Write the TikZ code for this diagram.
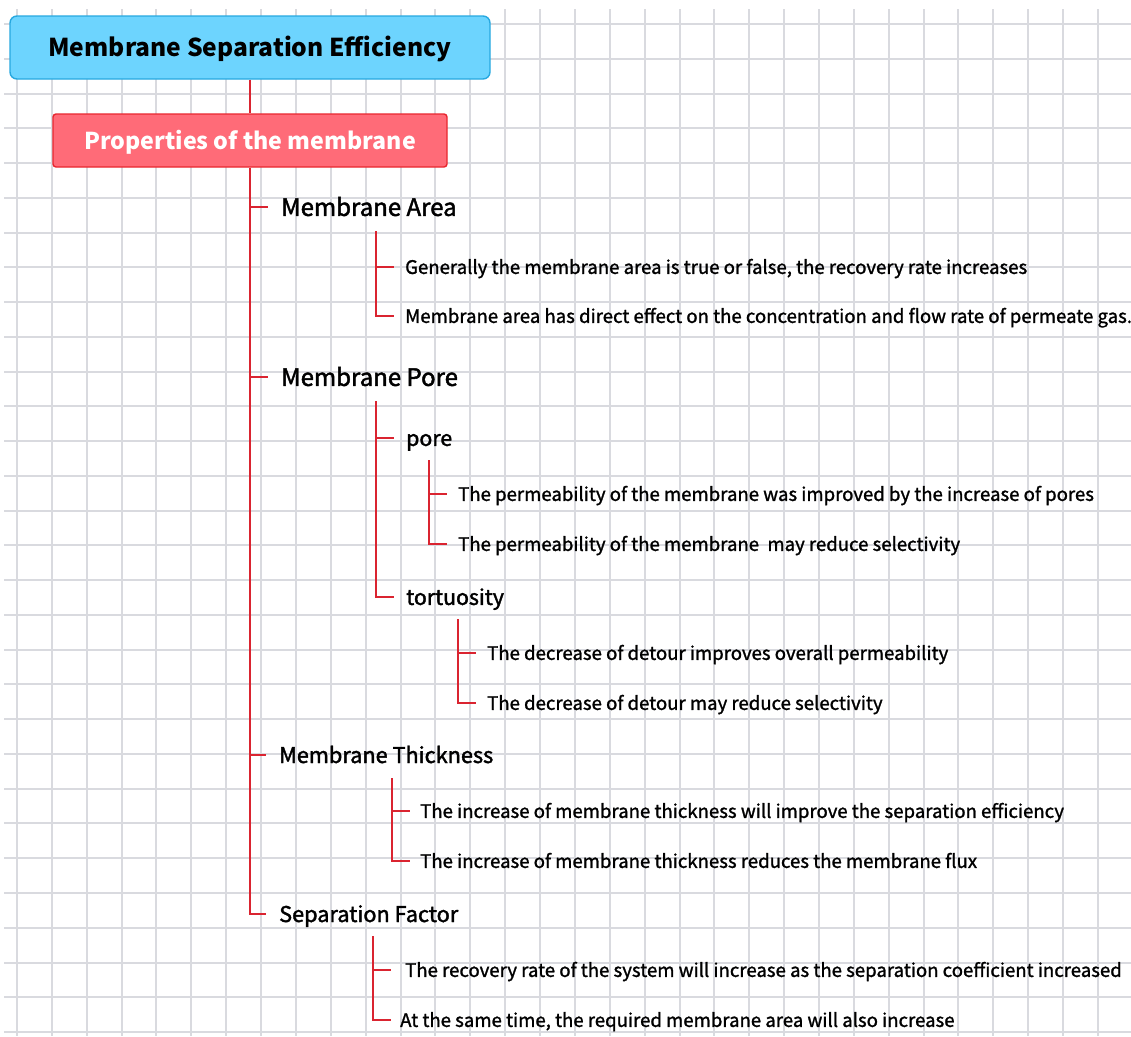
\documentclass[tikz,border=0pt]{standalone}
\usepackage{fontspec}
\setmainfont{Noto Sans CJK KR}
\newfontfamily\medfont[FakeBold=1.3]{Noto Sans CJK KR}
\newfontfamily\lvlfont[FakeBold=1.8]{Noto Sans CJK KR}
\definecolor{gridc}{HTML}{D9DADF}
\definecolor{linkc}{HTML}{DA2430}
\definecolor{rootfill}{HTML}{6DD4FE}
\definecolor{rootdraw}{HTML}{27A8E0}
\definecolor{propfill}{HTML}{FF6B78}
\definecolor{propdraw}{HTML}{E8262F}
\begin{document}
\begin{tikzpicture}[x=1pt,y=-1pt,
  gridline/.style={draw=gridc, line width=1.5pt},
  link/.style={draw=linkc, line width=1.4pt},
  txt/.style={inner sep=0pt, text depth=0pt},
  rootbox/.style={txt, text height=18pt, draw=rootdraw, fill=rootfill, line width=1.4pt, rounded corners=7pt, minimum width=480pt, minimum height=63pt, font=\bfseries\fontsize{24.6}{30}\selectfont},
  propbox/.style={txt, text height=17pt, draw=propdraw, fill=propfill, line width=1.4pt, rounded corners=3pt, minimum width=394pt, minimum height=53pt, font=\bfseries\fontsize{23.2}{28}\selectfont, text=white},
  lvlone/.style={txt, text height=17.8pt, anchor=west, font=\lvlfont\fontsize{24}{26}\selectfont},
  lvlonesm/.style={txt, text height=16pt, anchor=west, font=\lvlfont\fontsize{21.7}{24}\selectfont},
  lvltwo/.style={txt, text height=15.8pt, anchor=west, font=\lvlfont\fontsize{21.3}{23}\selectfont},
  leaf/.style={txt, text height=13.8pt, anchor=west, font=\medfont\fontsize{18.6}{20}\selectfont}
]
\useasboundingbox (0,0) rectangle (1131,1036);
\fill[white] (0,0) rectangle (1131,1036);
\begin{scope}
\clip (0,0) rectangle (1131,1036);
\foreach \i in {0,...,32} {
  \pgfmathtruncatemacro{\gx}{17+34.87*\i+0.5}
  \draw[gridline] (\gx,9) -- (\gx,1036);
}
\foreach \j in {0,...,29} {
  \pgfmathtruncatemacro{\gy}{24+34.76*\j+0.5}
  \draw[gridline] (4,\gy) -- (1131,\gy);
}
\end{scope}

% main nodes
\node[rootbox] (root) at (250,47.5) {Membrane Separation Efficiency};
\node[propbox] (prop) at (250,140.5) {Properties of the membrane};

\node[lvlone] (ma) at (281,207) {Membrane Area};
\node[lvlone] (mp) at (281,377) {Membrane Pore};
\node[lvlonesm] (mt) at (279,755) {Membrane Thickness};
\node[lvlonesm] (sf) at (279,914) {Separation Factor};

\node[leaf] (ma1) at (405,267) {Generally the membrane area is true or false, the recovery rate increases};
\node[leaf] (ma2) at (405,316) {Membrane area has direct effect on the concentration and flow rate of permeate gas.};

\node[lvltwo] (po) at (406,438) {pore};
\node[lvltwo] (to) at (406,597) {tortuosity};

\node[leaf] (po1) at (458,494) {The permeability of the membrane was improved by the increase of pores};
\node[leaf] (po2) at (458,544) {The permeability of the membrane\ \ may reduce selectivity};
\node[leaf] (to1) at (487,653) {The decrease of detour improves overall permeability};
\node[leaf] (to2) at (487,703) {The decrease of detour may reduce selectivity};

\node[leaf] (mt1) at (420,811) {The increase of membrane thickness will improve the separation efficiency};
\node[leaf] (mt2) at (420,861) {The increase of membrane thickness reduces the membrane flux};

\node[leaf] (sf1) at (405,970) {The recovery rate of the system will increase as the separation coefficient increased};
\node[leaf] (sf2) at (400,1020) {At the same time, the required membrane area will also increase};

% trunk anchors
\coordinate (maT) at (376,231);
\coordinate (mpT) at (376,401);
\coordinate (poT) at (429,460);
\coordinate (toT) at (458,619);
\coordinate (mtT) at (392,778);
\coordinate (sfT) at (373,936);

% connectors
\draw[link] (root.south) -- (prop.north);
\draw[link] (prop.south) |- ([xshift=-13pt]sf.west);
\foreach \c in {ma,mp,mt} \draw[link] (prop.south |- \c.west) -- ([xshift=-13pt]\c.west);

\draw[link] (maT) |- ([xshift=-11pt]ma2.west);
\draw[link] (maT |- ma1.west) -- ([xshift=-11pt]ma1.west);

\draw[link] (mpT) |- ([xshift=-12pt]to.west);
\draw[link] (mpT |- po.west) -- ([xshift=-12pt]po.west);

\draw[link] (poT) |- ([xshift=-11pt]po2.west);
\draw[link] (poT |- po1.west) -- ([xshift=-11pt]po1.west);

\draw[link] (toT) |- ([xshift=-11pt]to2.west);
\draw[link] (toT |- to1.west) -- ([xshift=-11pt]to1.west);

\draw[link] (mtT) |- ([xshift=-10pt]mt2.west);
\draw[link] (mtT |- mt1.west) -- ([xshift=-10pt]mt1.west);

\draw[link] (sfT) |- ([xshift=-9pt]sf2.west);
\draw[link] (sfT |- sf1.west) -- ([xshift=-14pt]sf1.west);
\end{tikzpicture}
\end{document}
